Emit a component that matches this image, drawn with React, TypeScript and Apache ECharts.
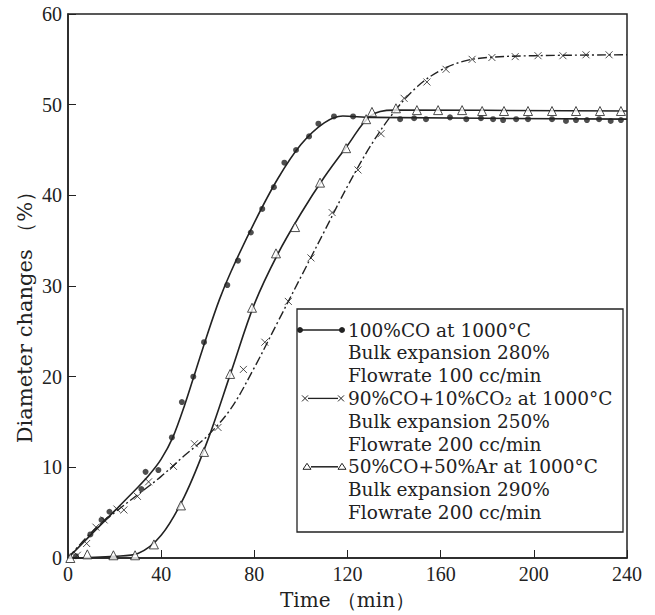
import React, { useEffect, useRef } from "react";
import * as echarts from "echarts";

// ---- data ----
// 100%CO (filled dots, solid curve)
const coTime = [3.4, 9.6, 14.4, 17.8, 31.5, 33.3, 38.8, 44.6, 48.9, 53.8, 58.4, 68.4, 73, 78.5, 83.4, 88.4, 92.9, 97.9, 103.5, 107.5, 114.2, 122.4, 142.6, 148.6, 153.7, 164, 171, 177.3, 182.5, 186.8, 192.4, 197.5, 207.8, 213.8, 218.1, 222.8, 228, 233, 237.4];
const coVal = [0.2, 2.6, 4.2, 5.1, 7.6, 9.5, 9.7, 13.3, 17.2, 20.0, 23.8, 30.1, 32.8, 35.9, 38.5, 40.9, 43.6, 45.0, 46.5, 47.9, 48.7, 48.7, 48.4, 48.5, 48.4, 48.6, 48.4, 48.5, 48.4, 48.3, 48.4, 48.4, 48.4, 48.2, 48.3, 48.3, 48.4, 48.2, 48.3];
const coCurveT = [0, 10, 20, 30, 35, 40, 45, 50, 55, 60, 65, 70, 80, 90, 100, 110, 118, 130, 240];
const coCurveV = [0, 2.6, 5.2, 7.8, 9.2, 10.9, 13.3, 16.8, 20.8, 24.8, 28.5, 31.6, 37, 41.8, 45.6, 48, 48.75, 48.6, 48.4];

// 90%CO+10%CO2 (crosses, dash-dot curve)
const co2Time = [4, 8, 12, 15.5, 21, 24, 29.8, 34.6, 45.3, 54.3, 64.4, 75.3, 84.5, 94.6, 104.3, 113.4, 124.5, 134.4, 144.3, 154.1, 162.3, 173.5, 182, 192, 201.8, 212.5, 222.4, 232.3];
const co2Val = [0.3, 1.6, 3.4, 4.2, 5.4, 5.3, 6.8, 8.4, 10.1, 12.6, 14.4, 20.8, 23.8, 28.3, 33.1, 38.1, 42.8, 46.8, 50.7, 52.5, 53.9, 55.0, 55.2, 55.3, 55.4, 55.4, 55.5, 55.5];
const co2CurveT = [0, 10, 20, 30, 40, 50, 60, 70, 80, 90, 100, 110, 120, 130, 140, 150, 160, 170, 180, 200, 240];
const co2CurveV = [0, 2.8, 5, 7, 9, 11.3, 13.5, 16.5, 21, 26, 31, 36, 41, 45.5, 49.2, 52, 53.8, 54.8, 55.2, 55.4, 55.5];

// 50%CO+50%Ar (open triangles, solid curve)
const arTime = [1, 8.3, 19.5, 28.8, 36.9, 48.5, 58.4, 69.6, 79, 89.3, 97.5, 108.2, 119.4, 128, 130.5, 140.8, 149.8, 158.9, 169.2, 177.8, 187.2, 197.5, 207.8, 218.1, 228.4, 237.4];
const arVal = [0, 0.4, 0.3, 0.3, 1.5, 5.8, 11.7, 20.3, 27.6, 33.6, 36.5, 41.4, 45.2, 48.4, 49.2, 49.6, 49.4, 49.4, 49.4, 49.3, 49.3, 49.3, 49.3, 49.3, 49.3, 49.3];
const arCurveT = [0, 20, 30, 40, 50, 60, 70, 80, 90, 100, 110, 120, 130, 140, 240];
const arCurveV = [0, 0.2, 0.5, 2.5, 6.8, 13, 20.5, 28, 33.5, 38, 42, 45.5, 48.8, 49.4, 49.3];

const xTicks = [0, 40, 80, 120, 160, 200, 240];
const yTicks = [0, 10, 20, 30, 40, 50, 60];

const legendLines = [
  "100%CO at 1000°C",
  "Bulk expansion 280%",
  "Flowrate 100 cc/min",
  "90%CO+10%CO₂ at 1000°C",
  "Bulk expansion 250%",
  "Flowrate 200 cc/min",
  "50%CO+50%Ar at 1000°C",
  "Bulk expansion 290%",
  "Flowrate 200 cc/min",
];

const INK = "#222";
const CROSS = "path://M0,0L10,10M10,0L0,10";

const pairs = (t: number[], v: number[]) => t.map((x, i) => [x, v[i]]);

export default function App() {
  const ref = useRef<HTMLDivElement>(null);
  useEffect(() => {
    if (!ref.current) return;
    const chart = echarts.init(ref.current, null, { renderer: "svg" });
    const axisFont = { fontFamily: "Liberation Serif", fontSize: 20, color: INK };
    const legendX = 348;
    const legendY0 = 330;
    const lh = 22.8;
    const r4 = legendY0 + 3 * lh;
    const r7 = legendY0 + 6 * lh;
    const graphics: any[] = [
      {
        type: "rect",
        shape: { x: 297, y: 309, width: 326, height: 223 },
        style: { fill: "#fff", stroke: INK, lineWidth: 1.3 },
        z: 100,
      },
      ...legendLines.map((s, i) => ({
        type: "text",
        x: legendX,
        y: legendY0 + i * lh,
        style: {
          text: s,
          fontFamily: "DejaVu Serif",
          fontSize: 18.5,
          fill: INK,
          verticalAlign: "middle",
        },
        z: 101,
      })),
      // legend symbols
      { type: "line", shape: { x1: 300, y1: legendY0, x2: 342, y2: legendY0 }, style: { stroke: INK, lineWidth: 1.5 }, z: 101 },
      { type: "circle", shape: { cx: 300, cy: legendY0, r: 3 }, style: { fill: INK }, z: 102 },
      { type: "circle", shape: { cx: 342, cy: legendY0, r: 3 }, style: { fill: INK }, z: 102 },
      { type: "line", shape: { x1: 308, y1: r4, x2: 338, y2: r4 }, style: { stroke: INK, lineWidth: 1.3 }, z: 101 },
      { type: "polyline", shape: { points: [[302, r4 - 3], [308, r4 + 3]] }, style: { stroke: INK, lineWidth: 1 }, z: 102 },
      { type: "polyline", shape: { points: [[302, r4 + 3], [308, r4 - 3]] }, style: { stroke: INK, lineWidth: 1 }, z: 102 },
      { type: "polyline", shape: { points: [[338, r4 - 3], [344, r4 + 3]] }, style: { stroke: INK, lineWidth: 1 }, z: 102 },
      { type: "polyline", shape: { points: [[338, r4 + 3], [344, r4 - 3]] }, style: { stroke: INK, lineWidth: 1 }, z: 102 },
      { type: "line", shape: { x1: 311, y1: r7, x2: 338, y2: r7 }, style: { stroke: INK, lineWidth: 1.5 }, z: 101 },
      { type: "polygon", shape: { points: [[303, r7 + 2.5], [311, r7 + 2.5], [307, r7 - 3.5]] }, style: { fill: "#fff", stroke: INK, lineWidth: 1 }, z: 102 },
      { type: "polygon", shape: { points: [[338, r7 + 2.5], [346, r7 + 2.5], [342, r7 - 3.5]] }, style: { fill: "#fff", stroke: INK, lineWidth: 1 }, z: 102 },
      // y-axis title
      {
        type: "text",
        x: 25,
        y: 312,
        rotation: Math.PI / 2,
        style: {
          text: "Diameter changes （%）",
          fontFamily: "DejaVu Serif",
          fontSize: 21,
          fill: INK,
          align: "center",
          verticalAlign: "middle",
        },
      },
    ];

    chart.setOption({
      animation: false,
      backgroundColor: "#fff",
      grid: {
        left: 68,
        right: 28,
        top: 14,
        bottom: 56,
        show: true,
        borderColor: INK,
        borderWidth: 1.5,
        backgroundColor: "transparent",
      },
      xAxis: {
        type: "value",
        min: 0,
        max: 240,
        interval: 40,
        name: "Time （min）",
        nameLocation: "middle",
        nameGap: 32,
        nameTextStyle: { fontFamily: "DejaVu Serif", fontSize: 20, color: INK },
        axisLine: { lineStyle: { color: INK, width: 1.5 } },
        axisTick: { inside: true, length: 8, lineStyle: { color: INK } },
        axisLabel: { ...axisFont, margin: 6, formatter: (v: number) => (xTicks.includes(v) ? String(v) : "") },
        splitLine: { show: false },
      },
      yAxis: {
        type: "value",
        min: 0,
        max: 60,
        interval: 10,
        axisLine: { lineStyle: { color: INK, width: 1.5 } },
        axisTick: { inside: true, length: 8, lineStyle: { color: INK } },
        axisLabel: { ...axisFont, margin: 6, formatter: (v: number) => (yTicks.includes(v) ? String(v) : "") },
        splitLine: { show: false },
      },
      series: [
        {
          name: "100%CO curve",
          type: "line",
          data: pairs(coCurveT, coCurveV),
          smooth: 0.3,
          showSymbol: false,
          lineStyle: { color: INK, width: 1.6 },
          z: 2,
        },
        {
          name: "90%CO+10%CO2 curve",
          type: "line",
          data: pairs(co2CurveT, co2CurveV),
          smooth: 0.35,
          showSymbol: false,
          lineStyle: { color: INK, width: 1.4, type: [9, 3, 2, 3] },
          z: 2,
        },
        {
          name: "50%CO+50%Ar curve",
          type: "line",
          data: pairs(arCurveT, arCurveV),
          smooth: 0.35,
          showSymbol: false,
          lineStyle: { color: INK, width: 1.6 },
          z: 2,
        },
        {
          name: "100%CO",
          type: "scatter",
          data: pairs(coTime, coVal),
          symbol: "circle",
          symbolSize: 6,
          itemStyle: { color: INK },
          z: 3,
        },
        {
          name: "90%CO+10%CO2",
          type: "scatter",
          data: pairs(co2Time, co2Val),
          symbol: CROSS,
          symbolSize: 7,
          itemStyle: { color: "none", borderColor: INK, borderWidth: 1 },
          z: 3,
        },
        {
          name: "50%CO+50%Ar",
          type: "scatter",
          data: pairs(arTime, arVal),
          symbol: "triangle",
          symbolSize: 9,
          itemStyle: { color: "#fff", borderColor: INK, borderWidth: 1 },
          z: 3,
        },
      ],
      graphic: graphics,
    });
    return () => chart.dispose();
  }, []);
  return <div ref={ref} style={{ width: 655, height: 615, position: "absolute", left: 0, top: 0 }} />;
}
